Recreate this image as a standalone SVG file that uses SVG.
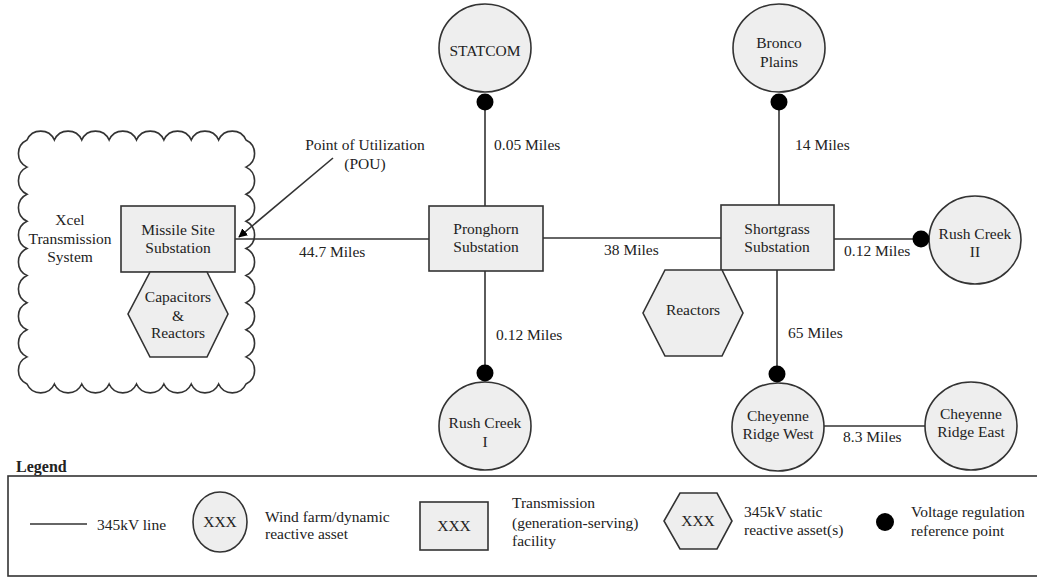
<svg xmlns="http://www.w3.org/2000/svg" width="1037" height="577" viewBox="0 0 1037 577">
<defs>
<style>
text{font-family:"Liberation Serif","Times New Roman",serif;font-size:15.5px;fill:#222}
.c{text-anchor:middle}
.n{fill:#eeeeee;stroke:#333;stroke-width:1.6}
.ln{stroke:#333;stroke-width:1.6;fill:none}
.dot{fill:#000}
</style>
<marker id="arr" viewBox="0 0 10 10" refX="9" refY="5" markerWidth="9" markerHeight="9" markerUnits="userSpaceOnUse" orient="auto">
<path d="M0,0 L10,5 L0,10 z" fill="#000"/>
</marker>
</defs>
<rect width="1037" height="577" fill="#fff"/>

<g id="xcel">
<path class="ln" d="M27,140 a15,15 0 0 1 27.375,0 a15,15 0 0 1 27.375,0 a15,15 0 0 1 27.375,0 a15,15 0 0 1 27.375,0 a15,15 0 0 1 27.375,0 a15,15 0 0 1 27.375,0 a15,15 0 0 1 27.375,0 a15,15 0 0 1 27.375,0 a15,15 0 0 1 0,27.111 a15,15 0 0 1 0,27.111 a15,15 0 0 1 0,27.111 a15,15 0 0 1 0,27.111 a15,15 0 0 1 0,27.111 a15,15 0 0 1 0,27.111 a15,15 0 0 1 0,27.111 a15,15 0 0 1 0,27.111 a15,15 0 0 1 0,27.111 a15,15 0 0 1 -27.375,0 a15,15 0 0 1 -27.375,0 a15,15 0 0 1 -27.375,0 a15,15 0 0 1 -27.375,0 a15,15 0 0 1 -27.375,0 a15,15 0 0 1 -27.375,0 a15,15 0 0 1 -27.375,0 a15,15 0 0 1 -27.375,0 a15,15 0 0 1 0,-27.111 a15,15 0 0 1 0,-27.111 a15,15 0 0 1 0,-27.111 a15,15 0 0 1 0,-27.111 a15,15 0 0 1 0,-27.111 a15,15 0 0 1 0,-27.111 a15,15 0 0 1 0,-27.111 a15,15 0 0 1 0,-27.111 a15,15 0 0 1 0,-27.111 z"/>
<text class="c" x="70" y="225">Xcel</text>
<text class="c" x="70" y="244">Transmission</text>
<text class="c" x="70" y="262">System</text>
</g>

<g id="connectors">
<line class="ln" x1="235" y1="239" x2="429" y2="239"/>
<line class="ln" x1="543" y1="238" x2="721" y2="238"/>
<line class="ln" x1="485" y1="102" x2="485" y2="206"/>
<line class="ln" x1="485" y1="271" x2="485" y2="373"/>
<line class="ln" x1="779" y1="102" x2="779" y2="205"/>
<line class="ln" x1="834" y1="239" x2="921" y2="239"/>
<line class="ln" x1="777" y1="270" x2="777" y2="374"/>
<line class="ln" x1="824" y1="426" x2="925" y2="426"/>
<line class="ln" x1="333" y1="158" x2="239" y2="237" marker-end="url(#arr)"/>
<text x="299" y="257">44.7 Miles</text>
<text x="604" y="255">38 Miles</text>
<text x="494" y="150">0.05 Miles</text>
<text x="496" y="340">0.12 Miles</text>
<text x="795" y="150">14 Miles</text>
<text x="844" y="256">0.12 Miles</text>
<text x="788" y="338">65 Miles</text>
<text x="843" y="442">8.3 Miles</text>
<text class="c" x="365" y="150">Point of Utilization</text>
<text class="c" x="365" y="169">(POU)</text>
</g>

<g id="missile">
<rect class="n" x="121" y="206" width="114" height="66"/>
<text class="c" x="178" y="235">Missile Site</text>
<text class="c" x="178" y="253">Substation</text>
</g>
<g id="capreact">
<polygon class="n" points="150,272 207,272 228,314 207,357 150,357 128,314"/>
<text class="c" x="178" y="302">Capacitors</text>
<text class="c" x="178" y="321">&amp;</text>
<text class="c" x="178" y="338">Reactors</text>
</g>
<g id="pronghorn">
<rect class="n" x="429" y="206" width="114" height="65"/>
<text class="c" x="486" y="234">Pronghorn</text>
<text class="c" x="486" y="252">Substation</text>
</g>
<g id="shortgrass">
<rect class="n" x="721" y="205" width="113" height="65"/>
<text class="c" x="777" y="234">Shortgrass</text>
<text class="c" x="777" y="252">Substation</text>
</g>
<g id="reactors">
<polygon class="n" points="665,270 722,270 743,313 722,356 665,356 643,313"/>
<text class="c" x="693" y="315">Reactors</text>
</g>
<g id="statcom">
<ellipse class="n" cx="485" cy="48" rx="46" ry="44"/>
<text class="c" x="485" y="56">STATCOM</text>
</g>
<g id="bronco">
<ellipse class="n" cx="779" cy="48" rx="46" ry="44"/>
<text class="c" x="779" y="48">Bronco</text>
<text class="c" x="779" y="67">Plains</text>
</g>
<g id="rushcreek2">
<ellipse class="n" cx="975" cy="240" rx="46" ry="44"/>
<text class="c" x="975" y="239">Rush Creek</text>
<text class="c" x="975" y="257">II</text>
</g>
<g id="rushcreek1">
<ellipse class="n" cx="485" cy="426" rx="46" ry="44"/>
<text class="c" x="485" y="428">Rush Creek</text>
<text class="c" x="485" y="447">I</text>
</g>
<g id="crwest">
<ellipse class="n" cx="778" cy="427" rx="46" ry="44"/>
<text class="c" x="778" y="421">Cheyenne</text>
<text class="c" x="778" y="439">Ridge West</text>
</g>
<g id="creast">
<ellipse class="n" cx="971" cy="426" rx="46" ry="44"/>
<text class="c" x="971" y="419">Cheyenne</text>
<text class="c" x="971" y="437">Ridge East</text>
</g>

<g id="dots">
<circle class="dot" cx="485" cy="102" r="8.5"/>
<circle class="dot" cx="779" cy="102" r="8.5"/>
<circle class="dot" cx="921" cy="239" r="8.5"/>
<circle class="dot" cx="777" cy="374" r="8.5"/>
<circle class="dot" cx="485" cy="373" r="8.5"/>
</g>

<g id="legend">
<text x="16" y="472" style="font-weight:bold;font-size:16px">Legend</text>
<rect x="8" y="476" width="1040" height="100" fill="none" stroke="#333" stroke-width="1.6"/>
<line class="ln" x1="30" y1="524" x2="87" y2="524"/>
<text x="97" y="530">345kV line</text>
<ellipse class="n" cx="220" cy="522" rx="27" ry="30"/>
<text class="c" x="220" y="527">XXX</text>
<text x="265" y="522">Wind farm/dynamic</text>
<text x="265" y="539">reactive asset</text>
<rect class="n" x="420" y="502" width="68" height="48"/>
<text class="c" x="454" y="531">XXX</text>
<text x="512" y="508">Transmission</text>
<text x="512" y="528">(generation-serving)</text>
<text x="512" y="546">facility</text>
<polygon class="n" points="680,493 717,493 732,521 717,549 680,549 664,521"/>
<text class="c" x="698" y="526">XXX</text>
<text x="744" y="517">345kV static</text>
<text x="744" y="535">reactive asset(s)</text>
<circle class="dot" cx="885" cy="522" r="9"/>
<text x="911" y="517">Voltage regulation</text>
<text x="911" y="536">reference point</text>
</g>
</svg>
